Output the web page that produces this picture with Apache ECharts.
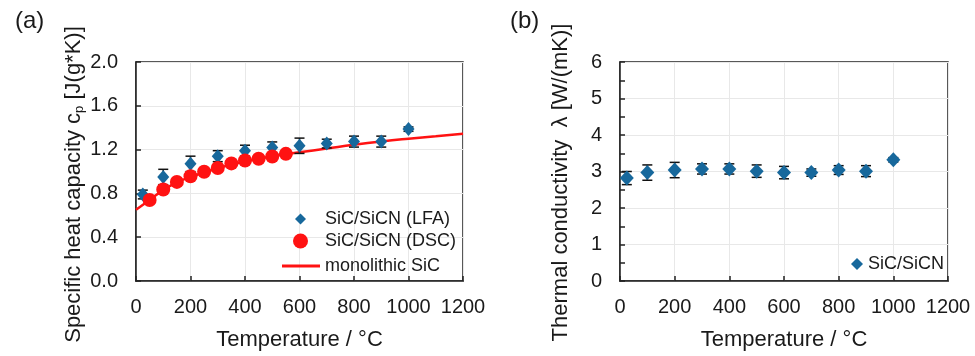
<!DOCTYPE html>
<html>
<head>
<meta charset="utf-8">
<script src="https://cdn.jsdelivr.net/npm/echarts@6/dist/echarts.min.js"></script>
<style>html,body{margin:0;padding:0;background:#fff}#c{width:975px;height:356px}</style>
</head>
<body>
<div id="c"></div>
<script>
// ---- data (a) specific heat capacity ----
const lfaT   = [25, 100, 200, 300, 400, 500, 600, 700, 800, 900, 1000];
const lfaCp  = [0.79, 0.95, 1.07, 1.14, 1.19, 1.22, 1.235, 1.255, 1.273, 1.273, 1.387];
const lfaErr = [0.04, 0.07, 0.07, 0.05, 0.05, 0.05, 0.07, 0.04, 0.05, 0.05, 0.02];
const dscT   = [50, 100, 150, 200, 250, 300, 350, 400, 450, 500, 550];
const dscCp  = [0.74, 0.835, 0.905, 0.956, 0.998, 1.032, 1.074, 1.10, 1.116, 1.137, 1.161];
const monoT  = [0, 50, 100, 150, 200, 300, 400, 500, 600, 700, 800, 900, 1000, 1100, 1200];
const monoCp = [0.65, 0.74, 0.83, 0.90, 0.95, 1.03, 1.09, 1.14, 1.175, 1.21, 1.245, 1.275, 1.30, 1.322, 1.345];
// ---- data (b) thermal conductivity ----
const lamT   = [25, 100, 200, 300, 400, 500, 600, 700, 800, 900, 1000];
const lam    = [2.82, 2.97, 3.04, 3.07, 3.07, 3.01, 2.97, 2.97, 3.04, 3.01, 3.32];
const lamErr = [0.18, 0.21, 0.21, 0.14, 0.14, 0.17, 0.17, 0.10, 0.12, 0.15, 0.06];
// ---- axis ticks ----
const xTicks = [0, 200, 400, 600, 800, 1000, 1200];
const cpTicks = [0.0, 0.4, 0.8, 1.2, 1.6, 2.0];
const lamTicks = [0, 1, 2, 3, 4, 5, 6];

const BLUE = '#17689c';
const RED = '#ff1212';
const TXT = '#1a1a1a';
const FONT = 'Liberation Sans, Arial, sans-serif';

function pairs(xs, ys) { return xs.map((x, i) => [x, ys[i]]); }
function triples(xs, ys, es) { return xs.map((x, i) => [x, ys[i], es[i]]); }

function errBar(params, api) {
  const x = api.value(0), y = api.value(1), e = api.value(2);
  const top = api.coord([x, y + e]);
  const bot = api.coord([x, y - e]);
  const w = 5;
  const st = { stroke: '#111', lineWidth: 1.5 };
  return {
    type: 'group',
    children: [
      { type: 'line', shape: { x1: top[0], y1: top[1], x2: bot[0], y2: bot[1] }, style: st },
      { type: 'line', shape: { x1: top[0] - w, y1: top[1], x2: top[0] + w, y2: top[1] }, style: st },
      { type: 'line', shape: { x1: bot[0] - w, y1: bot[1], x2: bot[0] + w, y2: bot[1] }, style: st }
    ]
  };
}

const axisLabel = { color: TXT, fontSize: 20, fontFamily: FONT };
const nameStyle = { color: TXT, fontSize: 22, fontFamily: FONT };

function xAxisCfg(gi) {
  return {
    type: 'value', gridIndex: gi, min: 0, max: 1200, interval: 200,
    name: 'Temperature / °C', nameLocation: 'middle', nameGap: 48,
    nameTextStyle: nameStyle,
    axisLine: { show: true, onZero: false, lineStyle: { color: '#222', width: 1.5 } },
    axisTick: { show: true, inside: true, length: 5, lineStyle: { color: '#222', width: 1.5 } },
    axisLabel: Object.assign({ margin: 16, formatter: v => xTicks.includes(v) ? String(v) : '' }, axisLabel),
    splitLine: { show: true, lineStyle: { color: '#e8e8e8', width: 1 } }
  };
}

const option = {
  animation: false,
  backgroundColor: '#fff',
  textStyle: { fontFamily: FONT },
  grid: [
    { left: 136, top: 62, width: 327, height: 221, show: true, borderColor: '#222', borderWidth: 1.5, backgroundColor: 'transparent' },
    { left: 620, top: 62, width: 328, height: 221, show: true, borderColor: '#222', borderWidth: 1.5, backgroundColor: 'transparent' }
  ],
  title: [
    { text: '(a)', left: 10, top: 4, textStyle: { color: TXT, fontSize: 24, fontWeight: 'normal', fontFamily: FONT } },
    { text: '(b)', left: 505, top: 4, textStyle: { color: TXT, fontSize: 24, fontWeight: 'normal', fontFamily: FONT } }
  ],
  xAxis: [xAxisCfg(0), xAxisCfg(1)],
  yAxis: [
    {
      type: 'value', gridIndex: 0, min: 0, max: 2, interval: 0.4,
      name: '{a|Specific heat capacity c}{s|p}{a| [J(g*K)]}',
      nameLocation: 'middle', nameGap: 48,
      nameTextStyle: Object.assign({}, nameStyle, {
        padding: [0, 26, 0, 0],
        rich: {
          a: { fontSize: 22, color: TXT, fontFamily: FONT },
          s: { fontSize: 13, color: TXT, fontFamily: FONT, padding: [12, 0, 0, 0] }
        }
      }),
      axisLine: { show: true, lineStyle: { color: '#222', width: 1.5 } },
      axisTick: { show: true, inside: true, length: 5, lineStyle: { color: '#222', width: 1.5 } },
      axisLabel: Object.assign({ margin: 18, formatter: v => v.toFixed(1) }, axisLabel),
      splitLine: { show: true, lineStyle: { color: '#e8e8e8', width: 1 } }
    },
    {
      type: 'value', gridIndex: 1, min: 0, max: 6, interval: 1,
      name: 'Thermal conductivity  λ [W/(mK)]',
      nameLocation: 'middle', nameGap: 48,
      nameTextStyle: Object.assign({}, nameStyle, { padding: [0, 22, 0, 0] }),
      axisLine: { show: true, lineStyle: { color: '#222', width: 1.5 } },
      axisTick: { show: true, inside: true, length: 5, lineStyle: { color: '#222', width: 1.5 } },
      minorTick: { show: true, splitNumber: 2, length: 5, lineStyle: { color: '#222', width: 1.5 } },
      axisLabel: Object.assign({ margin: 18, formatter: v => String(v) }, axisLabel),
      splitLine: { show: true, lineStyle: { color: '#e8e8e8', width: 1 } }
    }
  ],
  legend: [
    { data: [{ name: 'SiC/SiCN (LFA)', icon: 'diamond' }], left: 290, top: 205, itemWidth: 11, itemHeight: 11, itemGap: 0,
      textStyle: { color: TXT, fontSize: 18, fontFamily: FONT, padding: [0, 0, 0, 14] } },
    { data: [{ name: 'SiC/SiCN (DSC)', icon: 'circle' }], left: 288, top: 227, itemWidth: 15, itemHeight: 15, itemGap: 0,
      textStyle: { color: TXT, fontSize: 18, fontFamily: FONT, padding: [0, 0, 0, 12] } },
    { data: [{ name: 'monolithic SiC', icon: 'rect' }], left: 277, top: 252, itemWidth: 38, itemHeight: 3, itemGap: 0,
      textStyle: { color: TXT, fontSize: 18, fontFamily: FONT, padding: [0, 0, 0, 0] } },
    { data: [{ name: 'SiC/SiCN', icon: 'diamond' }], left: 846, top: 250, itemWidth: 12, itemHeight: 12, itemGap: 0,
      textStyle: { color: TXT, fontSize: 18, fontFamily: FONT, padding: [0, 0, 0, 0] } }
  ],
  series: [
    {
      name: 'monolithic SiC', type: 'line', xAxisIndex: 0, yAxisIndex: 0,
      data: pairs(monoT, monoCp), smooth: true, showSymbol: false, symbol: 'none',
      lineStyle: { color: RED, width: 2.5 }, itemStyle: { color: RED }, z: 2
    },
    {
      name: 'errLFA', type: 'custom', xAxisIndex: 0, yAxisIndex: 0,
      data: triples(lfaT, lfaCp, lfaErr), renderItem: errBar, z: 3, silent: true
    },
    {
      name: 'SiC/SiCN (LFA)', type: 'scatter', xAxisIndex: 0, yAxisIndex: 0,
      data: pairs(lfaT, lfaCp), symbol: 'diamond', symbolSize: [12, 14],
      itemStyle: { color: BLUE, opacity: 1 }, z: 4
    },
    {
      name: 'SiC/SiCN (DSC)', type: 'scatter', xAxisIndex: 0, yAxisIndex: 0,
      data: pairs(dscT, dscCp), symbol: 'circle', symbolSize: 14,
      itemStyle: { color: RED, opacity: 1 }, z: 5
    },
    {
      name: 'errLam', type: 'custom', xAxisIndex: 1, yAxisIndex: 1,
      data: triples(lamT, lam, lamErr), renderItem: errBar, z: 3, silent: true
    },
    {
      name: 'SiC/SiCN', type: 'scatter', xAxisIndex: 1, yAxisIndex: 1,
      data: pairs(lamT, lam), symbol: 'diamond', symbolSize: [14, 15],
      itemStyle: { color: BLUE, opacity: 1 }, z: 4
    }
  ]
};

const chart = echarts.init(document.getElementById('c'), null, { renderer: 'canvas' });
chart.setOption(option);
</script>
</body>
</html>
